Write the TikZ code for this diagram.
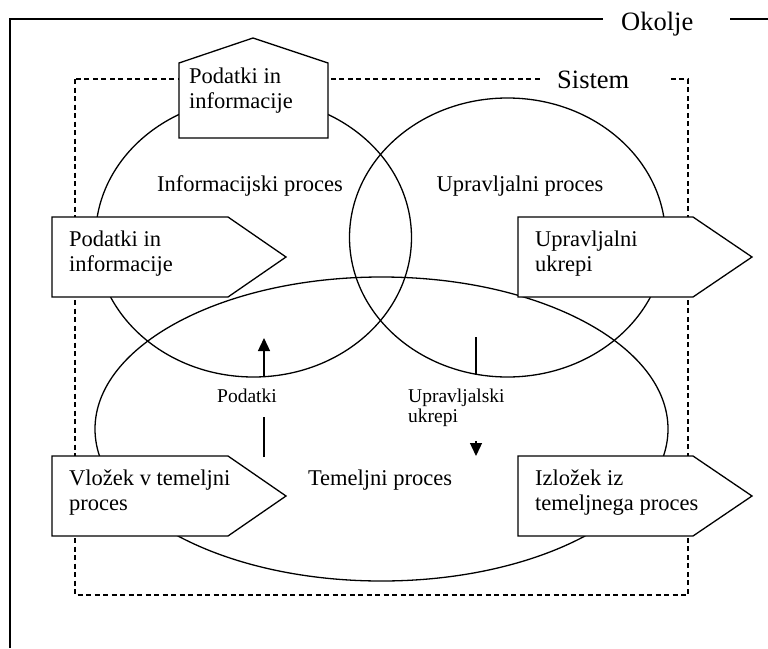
\documentclass[tikz,border=0pt]{standalone}
\usepackage{fontspec}
\setmainfont{Liberation Serif}
\usetikzlibrary{arrows.meta}
\begin{document}
\begin{tikzpicture}[x=1pt,y=-1pt,
  frame/.style={line width=1.4pt},
  sysbox/.style={line width=1.1pt,dash pattern=on 5pt off 3.5pt},
  blob/.style={line width=1.3pt},
  tag/.style={line width=1.3pt,fill=white,line join=miter},
  boxtext/.style={anchor=base west,align=left,inner sep=0pt,font=\fontsize{22.5}{25}\selectfont},
  proclabel/.style={anchor=base,inner sep=0pt,font=\fontsize{22.5}{25}\selectfont},
  flowlabel/.style={anchor=base west,align=left,inner sep=0pt,font=\fontsize{19.5}{20}\selectfont},
  title/.style={anchor=base west,fill=white,inner ysep=3pt,align=left,font=\fontsize{26.5}{28}\selectfont},
  flow/.style={line width=1.3pt},
  tip/.style={-{Triangle[width=12pt,length=13pt]}}
]
\fill[white] (0,0) rectangle (768,648);
\useasboundingbox (0,0) rectangle (768,648);

% environment frame
\draw[frame] (10,648) -- (10,19) -- (768,19);
\node[title,text width=91pt,inner xsep=18pt] (okolje) at (603,30) {Okolje};

% system boundary
\draw[sysbox] (75,79) rectangle (688,595);
\node[title,text width=94pt,inner xsep=17pt] (sistem) at (540,88.5) {Sistem};

% the three processes
\draw[blob] (253.5,237.5) ellipse [x radius=158pt,y radius=139.5pt];
\draw[blob] (507.5,237.5) ellipse [x radius=158pt,y radius=139.5pt];
\draw[blob] (381.5,429) ellipse [x radius=286.5pt,y radius=152pt];

\node[proclabel] (infoproc) at (250,191) {Informacijski proces};
\node[proclabel] (ctrlproc) at (520,191) {Upravljalni proces};
\node[proclabel] (coreproc) at (380,485) {Temeljni proces};

% inputs and outputs (multi-line text sits on the baseline of its last line)
\draw[tag] (179,138) -- (179,63) -- (253,38) -- (328,63) -- (328,138) -- cycle;
\node[boxtext] (datatop) at (189,108.5) {Podatki in\\informacije};

\draw[tag] (52,217) -- (228,217) -- (286,257) -- (228,297) -- (52,297) -- cycle;
\node[boxtext] (datain) at (69,271) {Podatki in\\informacije};

\draw[tag] (518,217) -- (693,217) -- (752,257) -- (693,297) -- (518,297) -- cycle;
\node[boxtext] (ctrlout) at (535,271) {Upravljalni\\ukrepi};

\draw[tag] (52,456) -- (228,456) -- (286,496) -- (228,536) -- (52,536) -- cycle;
\node[boxtext] (corein) at (69,510.5) {Vložek v temeljni\\proces};

\draw[tag] (518,456) -- (693,456) -- (752,496) -- (693,536) -- (518,536) -- cycle;
\node[boxtext] (coreout) at (535,510.5) {Izložek iz\\temeljnega proces};

% internal flows
\node[flowlabel,anchor=base] (podatki) at (247,402) {Podatki};
\coordinate (pa) at (264,457);
\coordinate (pb) at (264,417);
\coordinate (pc) at (264,377);
\coordinate (pd) at (264,338);
\draw[flow] (pa) -- (pb);
\draw[flow,tip] (pc) -- (pd);

\node[flowlabel] (ukrepi) at (408,422) {Upravljalski\\ukrepi};
\coordinate (ua) at (476,337);
\coordinate (ub) at (476,375);
\coordinate (uc) at (476,441);
\coordinate (ud) at (476,456);
\draw[flow] (ua) -- (ub);
\draw[flow,tip] (uc) -- (ud);
\end{tikzpicture}
\end{document}
